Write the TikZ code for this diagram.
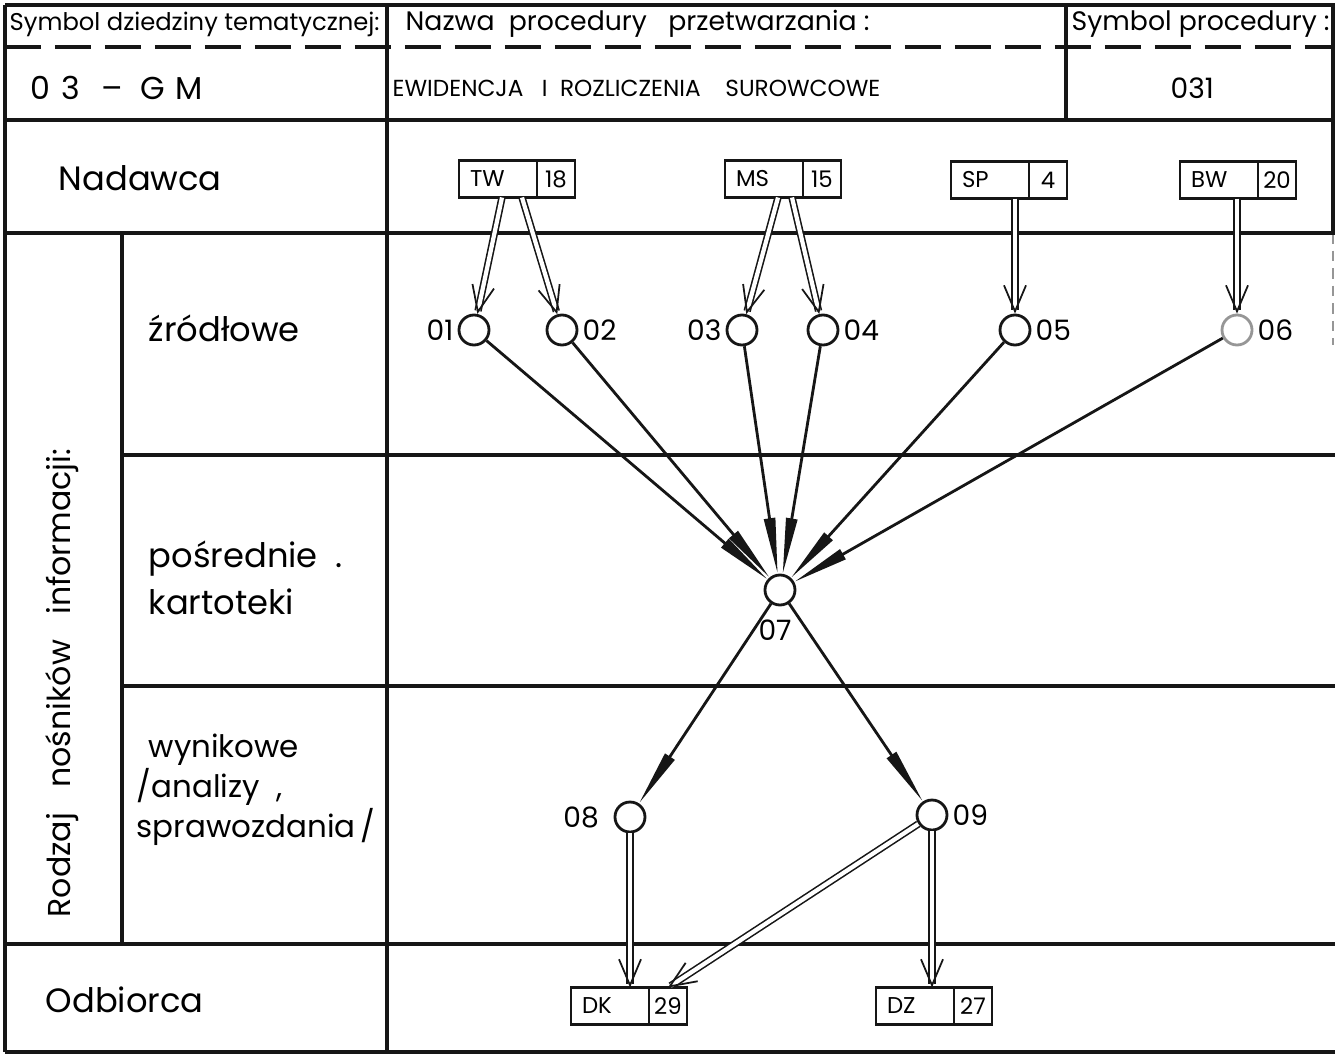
\documentclass[tikz,border=0pt]{standalone}
\usepackage{fontspec}
\setmainfont{Poppins}
\usetikzlibrary{arrows.meta,positioning}
\definecolor{ink}{RGB}{22,22,22}
\definecolor{faint}{RGB}{150,150,150}
\tikzset{
  rule/.style={ink,line width=1.1pt},
  cut/.style={ink,line width=0.9pt,dash pattern=on 3.6mm off 1.4mm},
  hdr/.style={font=\fontsize{7.6}{9}\selectfont,anchor=west,inner sep=0pt},
  rowtxt/.style={font=\fontsize{9.6}{13.5}\selectfont,anchor=west,inner sep=0pt,align=left},
  code/.style={draw=ink,line width=0.8pt,outer sep=0pt,minimum width=7.8mm,minimum height=3.7mm,
               inner sep=1pt,text width=5.6mm,align=left,font=\fontsize{6.5}{7}\selectfont},
  num/.style={draw=ink,line width=0.8pt,outer sep=0pt,minimum width=3.8mm,minimum height=3.7mm,
              inner sep=0.5pt,font=\fontsize{6.5}{7}\selectfont},
  card/.style={circle,draw=ink,line width=0.8pt,minimum size=3mm,inner sep=0pt},
  cardlbl/.style={font=\fontsize{8}{9}\selectfont,inner sep=1pt},
  feed/.style={ink,double,double distance=1.2pt,line width=0.45pt,
               -{Straight Barb[length=2.6mm,width=2.2mm,line width=0.5pt]}},
  flow/.style={ink,line width=0.8pt,-{Triangle[length=5.6mm,width=1.1mm]}}
}

\begin{document}
\begin{tikzpicture}[x=0.1mm,y=-0.1mm]
  \useasboundingbox (0,0) rectangle (1338,1058);

  % Form grid
  \draw[rule] (5,5) -- (1335,5);
  \draw[rule] (5,1052) -- (1335,1052);
  \draw[rule] (5,5) -- (5,1052);
  \draw[rule] (1333,5) -- (1333,233);
  \draw[faint,line width=0.5pt,densely dashed] (1333,233) -- (1333,345);
  \draw[rule] (387,5) -- (387,1052);
  \draw[rule] (1066,5) -- (1066,120);
  \draw[rule] (122,233) -- (122,944);
  \draw[cut] (5,47) -- (1335,47);
  \draw[rule] (5,120) -- (1335,120);
  \draw[rule] (5,233) -- (1335,233);
  \draw[rule] (122,455) -- (1335,455);
  \draw[rule] (122,686) -- (1335,686);
  \draw[rule] (5,944) -- (1335,944);

  % Header fields
  \node[hdr,font=\fontsize{6.9}{9}\selectfont] (fieldsym) at (9,24) {Symbol dziedziny tematycznej:};
  \node[hdr] (fieldname) at (405,24) {Nazwa \ procedury \ \ przetwarzania :};
  \node[hdr] (fieldproc) at (1071,24) {Symbol procedury :};
  \node[hdr,font=\fontsize{9}{11}\selectfont] (domain) at (30,88) {0\,\,3 \ \,–\ \ G\,\,M};
  \node[hdr,font=\fontsize{6.6}{7}\selectfont] (procname) at (392,88)
      {EWIDENCJA \ \ I \ ROZLICZENIA \ \ \ SUROWCOWE};
  \node[hdr,font=\fontsize{8}{10}\selectfont] (procsym) at (1170,88) {031};

  % Row captions
  \node[rowtxt] (sender) at (58,178) {Nadawca};
  \node[rowtxt] (rsrc) at (148,328) {źródłowe};
  \node[rowtxt] (rmid) at (148,578) {pośrednie \ .\\kartoteki};
  \node[rowtxt,font=\fontsize{8.8}{11.4}\selectfont] (rout) at (136,790)
      {\hspace{1.2mm}wynikowe\\/analizy \ ,\\sprawozdania\,/};
  \node[rowtxt] (receiver) at (45,1000) {Odbiorca};
  \node[rowtxt,font=\fontsize{9}{11}\selectfont,rotate=90,anchor=center] (kind) at (62,683)
      {Rodzaj \ \ nośników \ \ informacji:};

  % Senders
  \node[code] (tw) at (498,179) {TW};
  \node[num,right=0pt of tw] (tw18) {18};
  \node[code] (ms) at (764,179) {MS};
  \node[num,right=0pt of ms] (ms15) {15};
  \node[code] (sp) at (990,180) {SP};
  \node[num,right=0pt of sp] (sp4) {4};
  \node[code] (bw) at (1219,180) {BW};
  \node[num,right=0pt of bw] (bw20) {20};

  % Information carriers
  \node[card,label={[cardlbl]left:01}] (c01) at (474,330) {};
  \node[card,label={[cardlbl]right:02}] (c02) at (562,330) {};
  \node[card,label={[cardlbl]left:03}] (c03) at (742,330) {};
  \node[card,label={[cardlbl]right:04}] (c04) at (823,330) {};
  \node[card,label={[cardlbl]right:05}] (c05) at (1015,330) {};
  \node[card,draw=faint,label={[cardlbl]right:06}] (c06) at (1237,330) {};
  \node[card,label={[cardlbl,label distance=2.5pt,xshift=-0.5mm]below:07}] (c07) at (780,590) {};
  \node[card,label={[cardlbl,label distance=3pt]left:08}] (c08) at (630,817) {};
  \node[card,label={[cardlbl]right:09}] (c09) at (932,815) {};

  % Receivers
  \node[code] (dk) at (610,1006) {DK};
  \node[num,right=0pt of dk] (dk29) {29};
  \node[code] (dz) at (915,1006) {DZ};
  \node[num,right=0pt of dz] (dz27) {27};

  % Documents handed over by the senders
  \draw[feed] ([xshift=0.4mm]tw.south) -- (c01);
  \draw[feed] ([xshift=2.4mm]tw.south) -- (c02);
  \draw[feed] ([xshift=1.4mm]ms.south) -- (c03);
  \draw[feed] ([xshift=2.8mm]ms.south) -- (c04);
  \draw[feed] (sp.south -| c05) -- (c05);
  \draw[feed] (bw.south -| c06) -- (c06);

  % Processing into the file and the results
  \foreach \src in {c01,c02,c03,c04,c05,c06} {\draw[flow] (\src) -- (c07);}
  \draw[flow] (c07) -- (c08);
  \draw[flow] (c07) -- (c09);

  % Results passed to the receivers
  \draw[feed] (c08) -- (c08 |- dk.north);
  \draw[feed] (c09) -- (dk29.north);
  \draw[feed] (c09) -- (c09 |- dz.north);
\end{tikzpicture}
\end{document}
